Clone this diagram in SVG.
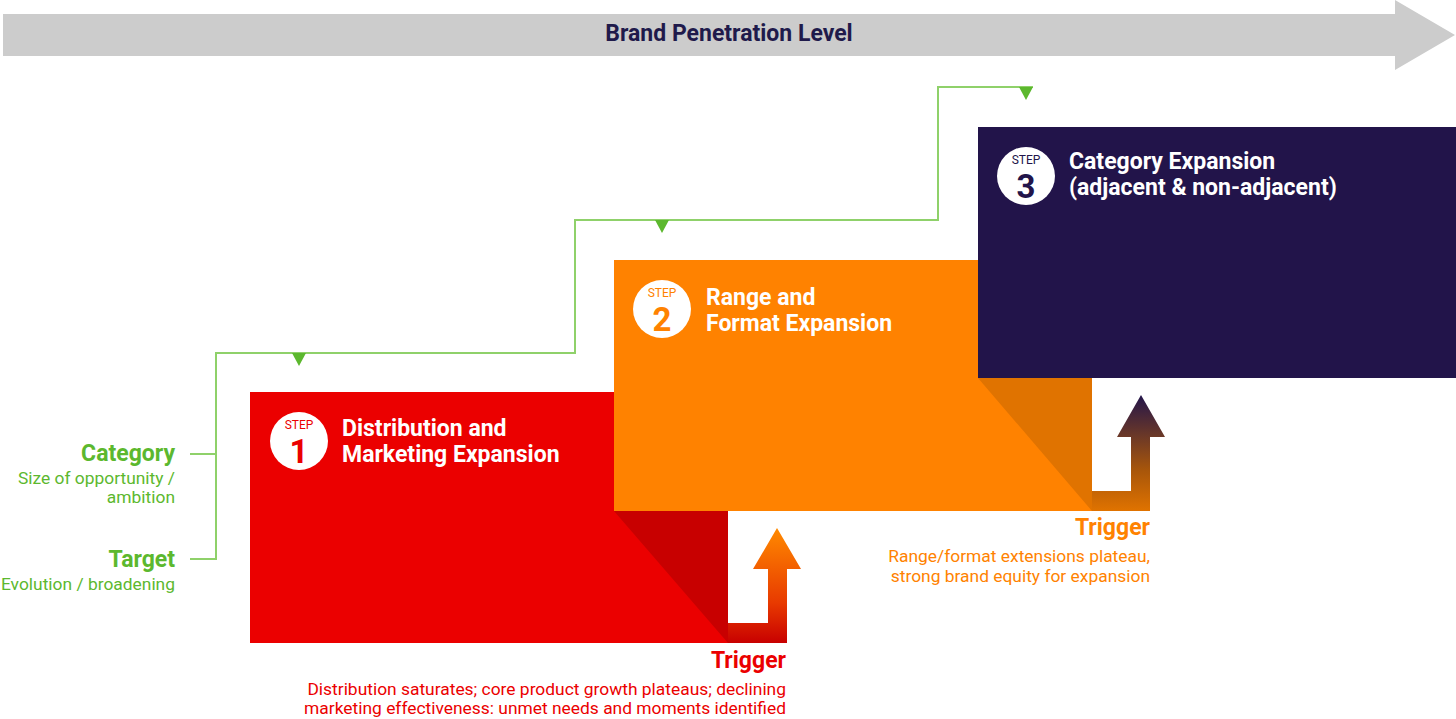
<svg xmlns="http://www.w3.org/2000/svg" width="1456" height="719" viewBox="0 0 1456 719">
<defs>
<style>
text{font-family:Roboto,"Liberation Sans",sans-serif}
.hd{font-size:23px;font-weight:700;fill:#fff}
.step{font-size:12px;text-anchor:middle}
.num{font-size:33px;font-weight:700;text-anchor:middle}
.lbl{font-size:23px;font-weight:700;text-anchor:end}
.sub{font-size:17.4px;text-anchor:end}
.gl{fill:none;stroke:#8fd16a;stroke-width:2}
.gt{fill:#5cb82e}
.grn{fill:#5cb82e}
</style>
<linearGradient id="gr1" x1="0" y1="1" x2="0" y2="0">
<stop offset="0" stop-color="#c80000"/>
<stop offset="0.35" stop-color="#e83a00"/>
<stop offset="1" stop-color="#ff8a00"/>
</linearGradient>
<linearGradient id="gr2" x1="0" y1="1" x2="0" y2="0">
<stop offset="0" stop-color="#e07300"/>
<stop offset="0.35" stop-color="#a8560a"/>
<stop offset="1" stop-color="#23154a"/>
</linearGradient>
</defs>
<g id="axis">
<polygon points="3,14 1395,14 1395,0 1455,35 1395,70 1395,56 3,56" fill="#cccccc"/>
<text x="729" y="41" text-anchor="middle" font-size="23" font-weight="700" fill="#1f1a4b">Brand Penetration Level</text>
</g>
<g id="step1">
<rect x="250" y="392" width="478" height="251" fill="#eb0000"/>
<polygon points="614,511 728,511 728,643" fill="#c80000"/>
<circle cx="299" cy="441" r="29" fill="#fff"/>
<text class="step" x="299" y="429" fill="#eb0000">STEP</text>
<text class="num" x="299" y="463" fill="#eb0000">1</text>
<text class="hd" x="342" y="436">Distribution and</text>
<text class="hd" x="342" y="462">Marketing Expansion</text>
</g>
<g id="step2">
<rect x="614" y="260" width="478" height="251" fill="#ff8200"/>
<polygon points="978,378 1092,378 1092,511" fill="#e07300"/>
<circle cx="662" cy="309" r="29" fill="#fff"/>
<text class="step" x="662" y="297" fill="#ff8200">STEP</text>
<text class="num" x="662" y="331" fill="#ff8200">2</text>
<text class="hd" x="706" y="305">Range and</text>
<text class="hd" x="706" y="331">Format Expansion</text>
</g>
<g id="step3">
<rect x="978" y="127" width="478" height="251" fill="#22144a"/>
<circle cx="1026" cy="176" r="29" fill="#fff"/>
<text class="step" x="1026" y="164" fill="#22144a">STEP</text>
<text class="num" x="1026" y="198" fill="#22144a">3</text>
<text class="hd" x="1069" y="169">Category Expansion</text>
<text class="hd" x="1069" y="195">(adjacent &amp; non-adjacent)</text>
</g>
<g id="trigger1">
<polygon points="728,623 768,623 768,569 753,569 777,528 801,569 787,569 787,643 728,643" fill="url(#gr1)"/>
<text class="lbl" x="786" y="668" fill="#eb0000">Trigger</text>
<text class="sub" x="786" y="695" fill="#eb0000">Distribution saturates; core product growth plateaus; declining</text>
<text class="sub" x="786" y="714" fill="#eb0000">marketing effectiveness: unmet needs and moments identified</text>
</g>
<g id="trigger2">
<polygon points="1092,491 1131,491 1131,437 1117,437 1141,395 1165,437 1150,437 1150,511 1092,511" fill="url(#gr2)"/>
<text class="lbl" x="1150" y="535" fill="#ff8200">Trigger</text>
<text class="sub" x="1150" y="562" fill="#ff8200">Range/format extensions plateau,</text>
<text class="sub" x="1150" y="582" fill="#ff8200">strong brand equity for expansion</text>
</g>
<g id="legend">
<text class="lbl grn" x="175" y="461">Category</text>
<text class="sub grn" x="175" y="484">Size of opportunity /</text>
<text class="sub grn" x="175" y="503">ambition</text>
<text class="lbl grn" x="175" y="567">Target</text>
<text class="sub grn" x="175" y="590">Evolution / broadening</text>
</g>
<g id="connectors">
<polyline class="gl" points="190,454 216,454"/>
<polyline class="gl" points="190,559 216,559 216,353 575,353 575,220 938,220 938,87 1033,87"/>
<polygon class="gt" points="292,353 306,353 299,366"/>
<polygon class="gt" points="655,220 669,220 662,233"/>
<polygon class="gt" points="1019,87 1033,87 1026,100"/>
</g>
</svg>
